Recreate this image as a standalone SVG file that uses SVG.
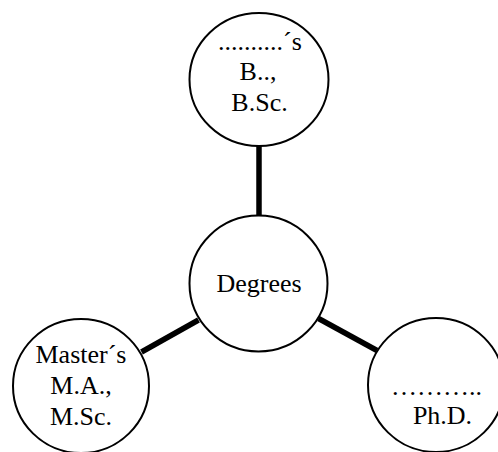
<svg xmlns="http://www.w3.org/2000/svg" width="498" height="452" viewBox="0 0 498 452">
<style>
.n{fill:#fff;stroke:#000;stroke-width:2}
.c{stroke:#000;stroke-width:5.5;fill:none}
.t{font-family:'Liberation Serif','Times New Roman',serif;font-size:26px;fill:#000;text-anchor:middle}
</style>
<rect width="498" height="452" fill="#fff"/>
<g id="connectors">
<line class="c" x1="259" y1="146" x2="259" y2="215"/>
<line class="c" x1="141.5" y1="352" x2="198.5" y2="320"/>
<line class="c" x1="318.5" y1="318.5" x2="377" y2="350.5"/>
</g>
<g id="bachelor">
<ellipse class="n" cx="259" cy="79.5" rx="69.5" ry="66.5"/>
<text class="t" x="260" y="50">..........´s</text>
<text class="t" x="258" y="80">B..,</text>
<text class="t" x="259.5" y="111">B.Sc.</text>
</g>
<g id="degrees">
<ellipse class="n" cx="258.5" cy="283.5" rx="69" ry="68"/>
<text class="t" x="259" y="292">Degrees</text>
</g>
<g id="master">
<ellipse class="n" cx="81" cy="386" rx="68" ry="67"/>
<text class="t" x="81" y="363">Master´s</text>
<text class="t" x="81" y="394">M.A.,</text>
<text class="t" x="81" y="425">M.Sc.</text>
</g>
<g id="doctor">
<ellipse class="n" cx="436" cy="385" rx="68" ry="67"/>
<text class="t" x="436.5" y="395">………..</text>
<text class="t" x="442.5" y="424">Ph.D.</text>
</g>
</svg>
